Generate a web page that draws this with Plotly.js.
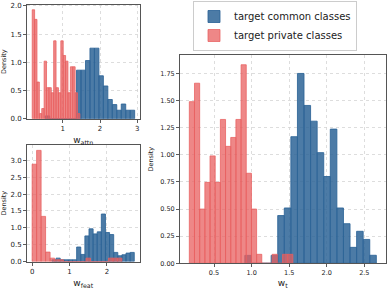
<!DOCTYPE html>
<html><head><meta charset="utf-8">
<script src="https://cdn.plot.ly/plotly-3.0.1.min.js"></script>
<style>html,body{margin:0;padding:0;background:#fff}#chart{width:388px;height:289px}</style>
</head><body><div id="chart"></div>
<script>
// ---- data: histogram densities (bin start, bin width, heights) ----
// w_attn (top-left)
const attnCommonStart = 0.53, attnCommonWidth = 0.12;
const attnCommon = [0.05,0,0,0,0,0,0,0.86,0.86,1.03,1.25,1.25,0.76,0.58,0.34,0.25,0.15,0.26,0.15,0.15];
const attnPrivateStart = 0.18, attnPrivateWidth = 0.064;
const attnPrivate = [1.93,1.76,0.65,0.09,0.18,1.02,0.55,0.55,0.46,1.38,0.55,0.46,1.38,1.12,1.02,0.46,0.92,0.92,0.46,0.09];
// w_feat (bottom-left)
const featCommonStart = 0.53, featCommonWidth = 0.11;
const featCommon = [0.05,0.1,0.05,0.05,0.05,0.05,0.43,0.21,0.76,0.97,0.82,0.88,1.41,0.86,0.8,0.27,0.17,0.2,0.25,0.27];
const featPrivateStart = 0.0, featPrivateWidth = 0.12;
const featPrivate = [2.89,3.3,1.34,0.28,0.1,0.05,0.05,0,0,0,0,0,0.1,0,0,0,0,0.1,0.1,0.1];
// w_t (right)
const tCommonStart = 0.91, tCommonWidth = 0.0875;
const tCommon = [0.073,0,0,0,0.073,0.44,0.51,1.167,1.75,1.455,1.31,1.02,0.80,1.237,0.51,0.365,0.147,0.295,0.22,0.074];
const tPrivateStart = 0.171, tPrivateWidth = 0.0689;
const tPrivate = [1.49,1.66,0.5,0.746,0.99,0.746,1.326,1.078,1.16,1.326,1.83,0.83,0.5,0.083,0,0,0.083,0,0.083,0.083];

const seriesNames = ['target common classes', 'target private classes'];
const leftYTicks = ['0.0','0.5','1.0','1.5','2.0','2.5','3.0'];
const rightYTicks = ['0.00','0.25','0.50','0.75','1.00','1.25','1.50','1.75'];
const rightXTicks = ['0.5','1.0','1.5','2.0','2.5'];

// ---- styling ----
const BLUE = 'rgba(45,100,150,0.85)';
const RED = 'rgba(232,95,95,0.75)';
const W = 388, H = 289;

function centers(start, width, arr){ return arr.map((_, i) => start + width*(i+0.5)); }
function barTrace(start, width, vals, color, name, xa, ya, show){
  return {type:'bar', x: centers(start,width,vals), y: vals, width: width,
    marker:{color: color, line:{color: color, width: 1}},
    name: name, showlegend: show, xaxis: xa, yaxis: ya, hoverinfo:'skip'};
}

const data = [
  barTrace(attnCommonStart, attnCommonWidth, attnCommon, BLUE, seriesNames[0], 'x', 'y', true),
  barTrace(attnPrivateStart, attnPrivateWidth, attnPrivate, RED, seriesNames[1], 'x', 'y', true),
  barTrace(featCommonStart, featCommonWidth, featCommon, BLUE, seriesNames[0], 'x2', 'y2', false),
  barTrace(featPrivateStart, featPrivateWidth, featPrivate, RED, seriesNames[1], 'x2', 'y2', false),
  barTrace(tCommonStart, tCommonWidth, tCommon, BLUE, seriesNames[0], 'x3', 'y3', false),
  barTrace(tPrivateStart, tPrivateWidth, tPrivate, RED, seriesNames[1], 'x3', 'y3', false)
];

const FONT = 'DejaVu Sans, sans-serif';
function ax(extra){
  return Object.assign({
    showline:true, mirror:true, linecolor:'#555', linewidth:1,
    showgrid:true, gridcolor:'#d4d4d4', griddash:'dot', gridwidth:0.8,
    ticks:'outside', ticklen:3, tickwidth:0.8, tickcolor:'#333',
    zeroline:false, tickfont:{family:FONT, size:7, color:'#222'}
  }, extra);
}
const xd = (a,b) => [a/W, b/W];
const yd = (top,bot) => [1-bot/H, 1-top/H];

const layout = {
  width: W, height: H, margin:{l:0,r:0,t:0,b:0},
  paper_bgcolor:'#fff', plot_bgcolor:'#fff',
  barmode:'overlay', bargap:0,
  font:{family:FONT, color:'#222'},
  showlegend:true,
  legend:{x:193/W, y:1-1/H, xanchor:'left', yanchor:'top', tracegroupgap:0, traceorder:'normal',
    bordercolor:'#ccc', borderwidth:1, bgcolor:'#fff',
    font:{family:FONT, size:10, color:'#222'}},
  xaxis: ax({domain: xd(27,139.5), range:[0.04,3.06], tickvals:[1,2,3], ticktext:['1','2','3'], anchor:'y',
    title:{text:'w<sub>attn</sub>', font:{family:FONT,size:9}, standoff:4}}),
  yaxis: ax({domain: yd(4.7,118.7), range:[0,2.02], tickvals:[0,0.5,1,1.5,2], ticktext:leftYTicks.slice(0,5), anchor:'x',
    title:{text:'Density', font:{family:FONT,size:6.5}, standoff:5}}),
  xaxis2: ax({domain: xd(27,139.5), range:[-0.137,2.87], tickvals:[0,1,2], ticktext:['0','1','2'], anchor:'y2',
    title:{text:'w<sub>feat</sub>', font:{family:FONT,size:9}, standoff:4}}),
  yaxis2: ax({domain: yd(145,261.5), range:[0,3.46], tickvals:[0,0.5,1,1.5,2,2.5,3], ticktext:leftYTicks, anchor:'x2',
    title:{text:'Density', font:{family:FONT,size:6.5}, standoff:5}}),
  xaxis3: ax({domain: xd(180,385.5), range:[0.047,2.782], tickvals:[0.5,1,1.5,2,2.5], ticktext:rightXTicks, anchor:'y3',
    tickfont:{family:FONT,size:6.5,color:'#222'},
    title:{text:'w<sub>t</sub>', font:{family:FONT,size:9}, standoff:4}}),
  yaxis3: ax({domain: yd(55,263.3), range:[0,1.92], tickvals:[0,0.25,0.5,0.75,1,1.25,1.5,1.75], ticktext:rightYTicks, anchor:'x3',
    tickfont:{family:FONT,size:6.5,color:'#222'},
    title:{text:'Density', font:{family:FONT,size:6.5}, standoff:5}})
};

Plotly.newPlot('chart', data, layout, {staticPlot:true, displayModeBar:false});
</script></body></html>
